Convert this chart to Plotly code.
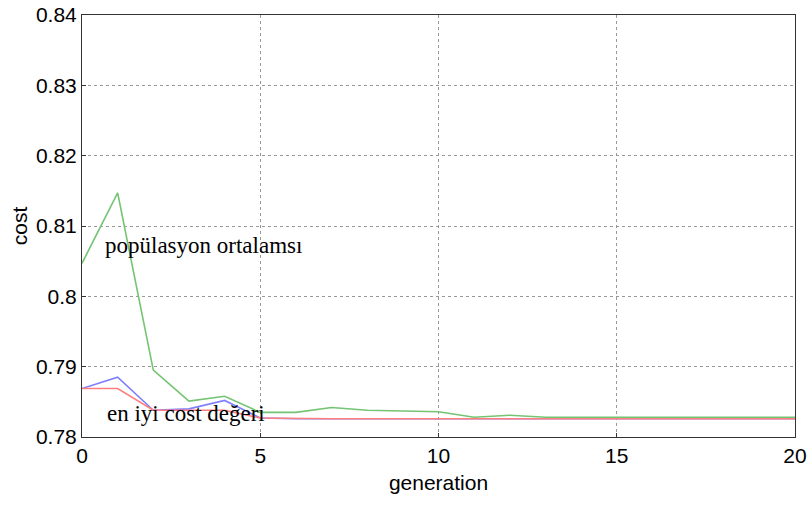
import plotly.graph_objects as go

generation = list(range(0, 21))
pop_mean = [0.8047, 0.8147, 0.7895, 0.7851, 0.7858, 0.7835, 0.7835, 0.7842, 0.7838, 0.7837,
            0.7836, 0.7828, 0.7831, 0.7828, 0.7828, 0.7828, 0.7828, 0.7828, 0.7828, 0.7828, 0.7828]
best_blue = [0.7869, 0.7885, 0.7838, 0.7840, 0.7852, 0.7827, 0.7826, 0.7826, 0.7826, 0.7826,
             0.7826, 0.7826, 0.7826, 0.7826, 0.7826, 0.7826, 0.7826, 0.7826, 0.7826, 0.7826, 0.7826]
best_cost = [0.7869, 0.7869, 0.7838, 0.7838, 0.7838, 0.7827, 0.7826, 0.7826, 0.7826, 0.7826,
             0.7826, 0.7826, 0.7826, 0.7826, 0.7826, 0.7826, 0.7826, 0.7826, 0.7826, 0.7826, 0.7826]

x_ticks = [0, 5, 10, 15, 20]
y_ticks = [0.78, 0.79, 0.80, 0.81, 0.82, 0.83, 0.84]
y_tick_text = ["0.78", "0.79", "0.8", "0.81", "0.82", "0.83", "0.84"]

fig = go.Figure()
fig.add_trace(go.Scatter(x=generation, y=pop_mean, mode="lines",
                         line=dict(color="#74c474", width=1.6), showlegend=False))
fig.add_trace(go.Scatter(x=generation, y=best_blue, mode="lines",
                         line=dict(color="#7f7fff", width=1.6), showlegend=False))
fig.add_trace(go.Scatter(x=generation, y=best_cost, mode="lines",
                         line=dict(color="#ff7f7f", width=1.6), showlegend=False))

fig.add_annotation(x=0.6, y=0.8072, xanchor="left", yanchor="middle", showarrow=False,
                   text="popülasyon ortalamsı",
                   font=dict(family="Liberation Serif", size=23, color="black"))
fig.add_annotation(x=0.65, y=0.7833, xanchor="left", yanchor="middle", showarrow=False,
                   text="en iyi cost değeri",
                   font=dict(family="Liberation Serif", size=23, color="black"))

axis_common = dict(showline=True, linecolor="#333", linewidth=1, mirror=True,
                   showgrid=True, gridcolor="#999", griddash="dot", gridwidth=1,
                   ticks="inside", ticklen=4, tickcolor="#333", zeroline=False,
                   automargin=False,
                   tickfont=dict(family="Liberation Sans", size=21, color="black"))

fig.update_xaxes(range=[0, 20], tickvals=x_ticks,
                 title=dict(text="generation", standoff=9,
                            font=dict(family="Liberation Sans", size=21, color="black")),
                 **axis_common)
fig.update_yaxes(range=[0.78, 0.84], tickvals=y_ticks, ticktext=y_tick_text,
                 title=dict(text="cost", standoff=2,
                            font=dict(family="Liberation Sans", size=21, color="black")),
                 **axis_common)

fig.update_layout(width=811, height=507, margin=dict(l=82, r=16, t=15, b=70),
                  plot_bgcolor="white", paper_bgcolor="white")

fig.write_html("out.html")
